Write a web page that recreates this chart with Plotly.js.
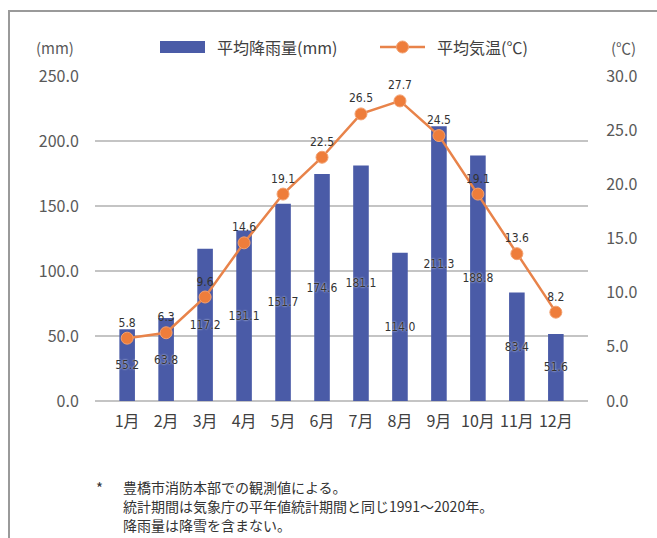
<!DOCTYPE html>
<html>
<head>
<meta charset="utf-8">
<script src="https://cdn.plot.ly/plotly-3.0.1.min.js"></script>
<style>
html,body{margin:0;padding:0;background:#fff;}
#frame{position:absolute;left:8px;top:10px;width:700px;height:600px;border-left:2px solid #9a9a9a;border-top:2px solid #9a9a9a;box-sizing:border-box;}
#chart{position:absolute;left:0;top:0;width:657px;height:538px;}
</style>
</head>
<body>
<div id="frame"></div>
<div id="chart"></div>
<script>
const months = ['1月','2月','3月','4月','5月','6月','7月','8月','9月','10月','11月','12月'];
const rainfall = [55.2, 63.8, 117.2, 131.1, 151.7, 174.6, 181.1, 114.0, 211.3, 188.8, 83.4, 51.6];
const temperature = [5.8, 6.3, 9.6, 14.6, 19.1, 22.5, 26.5, 27.7, 24.5, 19.1, 13.6, 8.2];
const rainName = '平均降雨量(mm)';
const tempName = '平均気温(℃)';
const leftTicks = [0, 50, 100, 150, 200, 250];
const rightTicks = [0, 5, 10, 15, 20, 25, 30];
const footnoteMark = '*';
const footnoteLines = [
  '豊橋市消防本部での観測値による。',
  '統計期間は気象庁の平年値統計期間と同じ1991～2020年。',
  '降雨量は降雪を含まない。'
];

const JP = '"Noto Sans CJK JP", "Noto Sans", sans-serif';
const NARROW = '"Liberation Sans Narrow", "DejaVu Sans Condensed", "Liberation Sans", sans-serif';
const BAR_COLOR = '#4A5BA7';
const LINE_COLOR = '#E8834A';
const MARKER_COLOR = '#EE7D3B';

const traces = [
  {
    type: 'bar', name: rainName, x: months, y: rainfall,
    text: rainfall.map(v => v.toFixed(1)),
    textposition: 'inside', insidetextanchor: 'middle', constraintext: 'none',
    textangle: 0,
    insidetextfont: {family: NARROW, size: 12, color: '#333333', shadow: '0px 0px 2px #ffffff'},
    marker: {color: BAR_COLOR},
    hoverinfo: 'skip', yaxis: 'y', showlegend: false
  },
  {
    type: 'scatter', mode: 'lines+markers+text', name: tempName, x: months, y: temperature,
    text: temperature.map(v => v.toFixed(1)),
    textposition: 'top center',
    textfont: {family: NARROW, size: 12, color: '#333333'},
    line: {color: LINE_COLOR, width: 2.5},
    marker: {color: MARKER_COLOR, size: 12, line: {color: '#F2A070', width: 1}},
    hoverinfo: 'skip', yaxis: 'y2', showlegend: false
  }
];

// pixel helpers for paper coordinates (plot area: x 95..588, y 76..401)
const PX = px => (px - 95) / 493;
const PY = py => (401 - py) / 325;

const annotations = [
  {xref: 'paper', yref: 'paper', x: PX(55), y: PY(47), text: '(mm)', showarrow: false,
   xanchor: 'center', yanchor: 'middle', font: {family: JP, size: 15, color: '#595959'}},
  {xref: 'paper', yref: 'paper', x: PX(623), y: PY(47), text: '(℃)', showarrow: false,
   xanchor: 'center', yanchor: 'middle', font: {family: JP, size: 15, color: '#595959'}},
  {xref: 'paper', yref: 'paper', x: PX(215), y: PY(47), text: rainName, showarrow: false,
   xanchor: 'left', yanchor: 'middle', font: {family: JP, size: 16, color: '#404040'}},
  {xref: 'paper', yref: 'paper', x: PX(435), y: PY(47), text: tempName, showarrow: false,
   xanchor: 'left', yanchor: 'middle', font: {family: JP, size: 16, color: '#404040'}},
  {xref: 'paper', yref: 'paper', x: PX(99), y: PY(487), text: footnoteMark, showarrow: false,
   xanchor: 'center', yanchor: 'middle', font: {family: JP, size: 15, color: '#333333'}}
];
footnoteLines.forEach((t, i) => {
  annotations.push({xref: 'paper', yref: 'paper', x: PX(122), y: PY(487 + i * 19), text: t, showarrow: false,
    xanchor: 'left', yanchor: 'middle', borderpad: 0, font: {family: JP, size: 14, color: '#333333'}});
});

const shapes = [
  {type: 'rect', xref: 'paper', yref: 'paper', x0: PX(160), x1: PX(205), y0: PY(53), y1: PY(41),
   fillcolor: BAR_COLOR, line: {width: 0}},
  {type: 'line', xref: 'paper', yref: 'paper', x0: PX(380), x1: PX(425), y0: PY(47), y1: PY(47),
   line: {color: LINE_COLOR, width: 2.5}},
  {type: 'circle', xref: 'paper', yref: 'paper', x0: PX(396.5), x1: PX(408.5), y0: PY(53), y1: PY(41),
   fillcolor: MARKER_COLOR, line: {color: '#F2A070', width: 1}}
];

const layout = {
  width: 657, height: 538,
  margin: {l: 95, r: 69, t: 76, b: 137},
  paper_bgcolor: 'rgba(0,0,0,0)', plot_bgcolor: 'rgba(0,0,0,0)',
  bargap: 0.6,
  showlegend: false,
  xaxis: {type: 'category', showgrid: false, zeroline: false, showline: false,
          ticks: 'outside', ticklen: 6, tickcolor: 'rgba(0,0,0,0)',
          tickfont: {family: JP, size: 16, color: '#404040'}, fixedrange: true},
  yaxis: {range: [0, 250], tickvals: leftTicks, ticktext: leftTicks.map(v => v.toFixed(1)),
          showgrid: true, gridcolor: '#C4C4C4', gridwidth: 1.5, zeroline: true, zerolinecolor: '#C4C4C4', zerolinewidth: 1.5,
          showline: false, ticks: 'outside', ticklen: 12, tickcolor: 'rgba(0,0,0,0)',
          tickfont: {family: JP, size: 16, color: '#595959'}, fixedrange: true},
  yaxis2: {range: [0, 30], tickvals: rightTicks, ticktext: rightTicks.map(v => v.toFixed(1)),
           overlaying: 'y', side: 'right', showgrid: false, zeroline: false, showline: false,
           ticks: 'outside', ticklen: 14, tickcolor: 'rgba(0,0,0,0)',
           tickfont: {family: JP, size: 16, color: '#595959'}, fixedrange: true},
  annotations: annotations,
  shapes: shapes
};

Plotly.newPlot('chart', traces, layout, {displayModeBar: false, staticPlot: true});
</script>
</body>
</html>
